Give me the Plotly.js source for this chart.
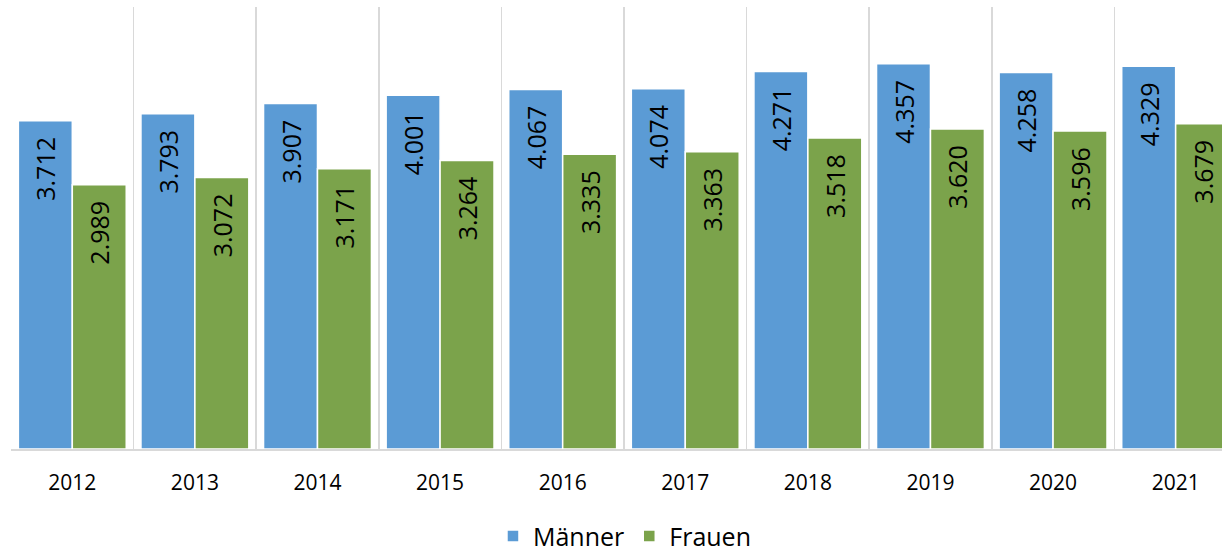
<!DOCTYPE html>
<html><head><meta charset="utf-8">
<script src="https://cdn.plot.ly/plotly-3.0.1.min.js"></script>
<style>html,body{margin:0;padding:0;background:#fff}</style>
</head><body>
<div id="chart" style="width:1222px;height:554px"></div>
<script>
const years = ["2012","2013","2014","2015","2016","2017","2018","2019","2020","2021"];
const maenner = [3712,3793,3907,4001,4067,4074,4271,4357,4258,4329];
const frauen = [2989,3072,3171,3264,3335,3363,3518,3620,3596,3679];
const seriesNames = ["Männer","Frauen"];
const colors = ["#5B9BD5","#7BA34B"];
const font = "Open Sans, Liberation Sans, sans-serif";

function trace(vals, i){
  return {
    type:"bar", x:years, y:vals, name:seriesNames[i],
    marker:{color:colors[i], line:{color:"#ffffff", width:1.5}},
    texttemplate:"%{y:,d}<span style='color:" + colors[i] + "'>..</span>",
    textposition:"inside", insidetextanchor:"end",
    textangle:-90, constraintext:"none",
    textfont:{family:font, size:25, color:"#000"},
    hoverinfo:"skip"
  };
}
Plotly.newPlot("chart",[trace(maenner,0),trace(frauen,1)],{
  width:1222, height:554,
  margin:{l:11,r:0,t:7,b:105, autoexpand:false},
  separators:",.",
  barmode:"group", bargap:0.12, bargroupgap:0,
  paper_bgcolor:"#fff", plot_bgcolor:"#fff",
  xaxis:{type:"category", range:[-0.5,9.378], tickson:"boundaries",
    showgrid:true, gridcolor:"#d9d9d9", gridwidth:1.5,
    showline:true, linecolor:"#d9d9d9", linewidth:1.5,
    ticks:"", ticklabelstandoff:14, automargin:false,
    tickfont:{family:font,size:21,color:"#000"}},
  yaxis:{range:[0,5000], showgrid:false, showticklabels:false, zeroline:false, showline:false, fixedrange:true},
  legend:{orientation:"h", x:0.507, xanchor:"center", yref:"container", y:0.032, yanchor:"middle",
    font:{family:font,size:25,color:"#000"}, itemwidth:30, traceorder:"normal"},
  showlegend:true
},{displayModeBar:false, staticPlot:true});
</script>
</body></html>
